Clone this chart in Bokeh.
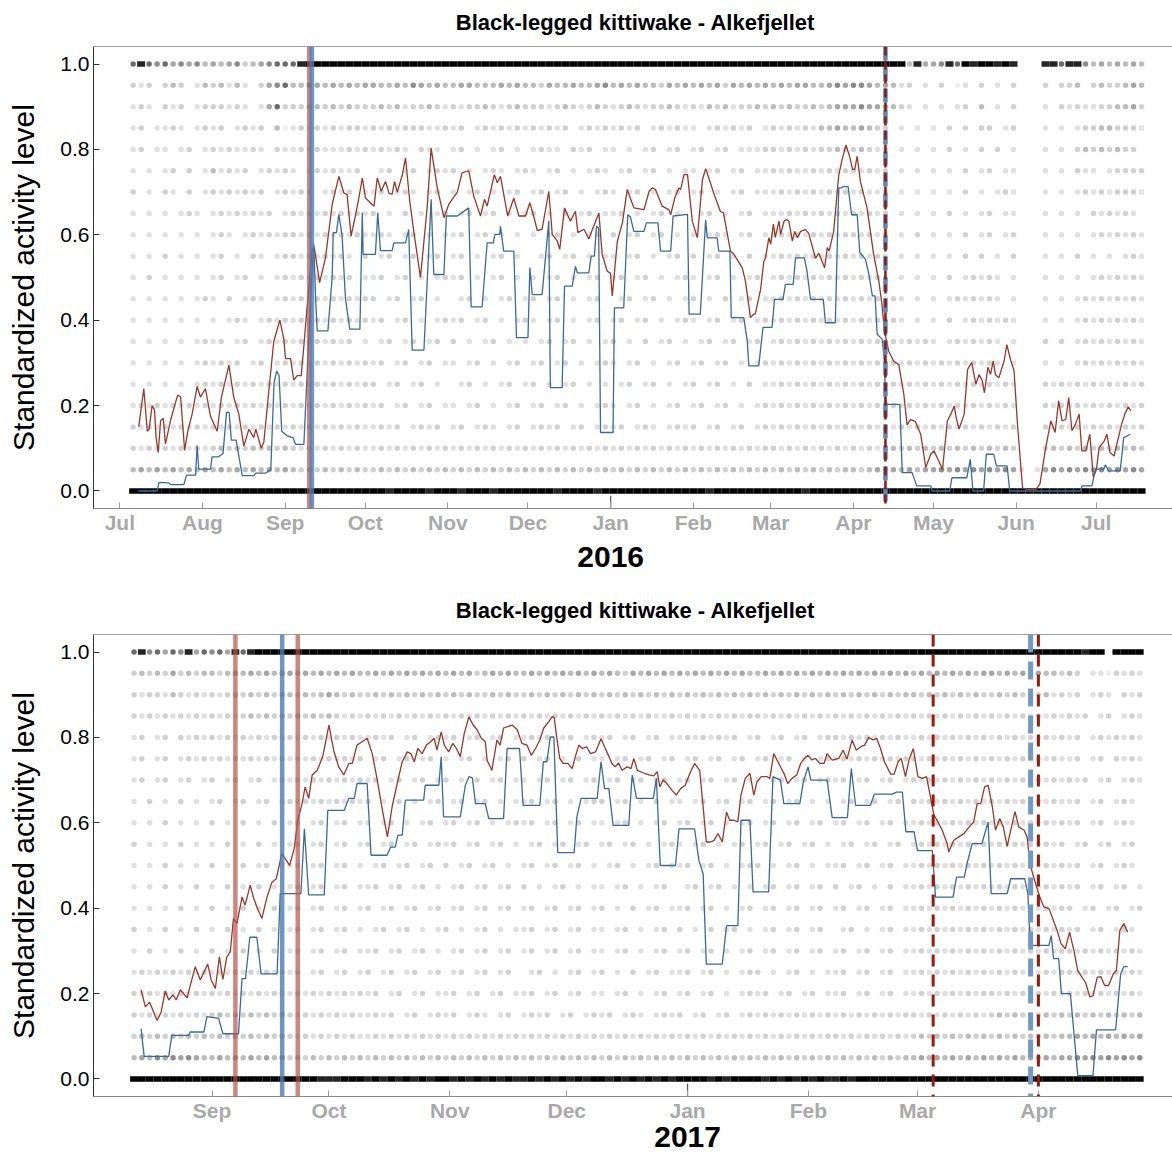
from datetime import date
from bokeh.plotting import figure
from bokeh.models import ColumnDataSource, Span, FixedTicker, PrintfTickFormatter, Range1d, Title
from bokeh.layouts import column
from bokeh.embed import file_html
from bokeh.resources import INLINE

TITLE = "Black-legged kittiwake - Alkefjellet"
Y_LABEL = "Standardized activity level"
YEAR1 = "2016"
YEAR2 = "2017"

# ---------------- Panel 1 (days since 2015-07-01) ----------------
REF1 = date(2015, 7, 1)
MONTHS1 = [(2015, 7), (2015, 8), (2015, 9), (2015, 10), (2015, 11), (2015, 12),
           (2016, 1), (2016, 2), (2016, 3), (2016, 4), (2016, 5), (2016, 6), (2016, 7)]
XLIM1 = (-9.86, 394.6)

red1_day = [7.1, 9.0, 10.3, 11.0, 12.1, 13.0, 13.6, 14.4, 15.3, 16.3, 17.1, 19.0, 21.7, 22.8, 24.3, 25.5,
            27.1, 29.0, 30.2, 32.1, 34.0, 36.5, 38.1, 40.9, 42.7, 44.6, 46.5, 48.4, 50.2, 51.0, 53.0, 54.0,
            55.8, 57.7, 60.0, 61.5, 62.1, 64.0, 65.2, 66.5, 68.0, 69.0, 70.2, 70.8, 72.1, 72.9, 74.9, 77.1,
            79.6, 82.1, 84.0, 85.2, 86.7, 88.4, 89.6, 90.9, 92.1, 95.3, 96.5, 98.0, 99.6, 100.9, 102.1, 103.0,
            104.0, 105.9, 107.1, 108.7, 110.2, 112.7, 115.2, 116.7, 119.0, 121.5, 123.3, 126.5, 128.3, 130.8,
            132.7, 135.2, 136.7, 137.7, 140.4, 141.5, 142.7, 145.4, 147.7, 149.6, 152.1, 153.7, 155.0, 156.5,
            158.3, 160.8, 162.1, 164.0, 164.9, 166.7, 168.9, 170.8, 171.7, 174.0, 175.8, 177.0, 179.6, 180.8,
            182.7, 183.9, 184.6, 186.5, 188.4, 190.2, 192.7, 196.5, 198.4, 199.6, 200.8, 203.3, 205.8, 206.5,
            208.0, 209.6, 210.2, 211.5, 212.8, 214.6, 216.5, 218.4, 219.6, 220.8, 222.6, 225.1, 226.3, 228.9,
            230.1, 233.3, 234.5, 236.4, 237.6, 238.2, 240.2, 241.4, 242.0, 243.3, 244.0, 245.0, 245.7, 247.1,
            247.7, 249.0, 250.0, 250.8, 252.1, 253.0, 254.0, 255.2, 257.0, 258.2, 260.8, 262.0, 264.2, 265.2,
            265.9, 267.6, 269.5, 270.9, 272.2, 273.4, 274.7, 275.5, 276.4, 277.6, 280.1, 282.6, 284.5, 285.7,
            286.6, 288.2, 290.1, 292.0, 293.9, 295.1, 296.4, 298.2, 300.2, 302.1, 304.0, 305.2, 306.4, 308.4,
            310.2, 311.5, 312.8, 313.5, 314.6, 316.5, 317.8, 319.3, 320.9, 322.1, 323.3, 324.1, 325.4, 326.4,
            327.4, 328.2, 329.5, 331.5, 332.5, 334.0, 335.2, 336.5, 338.4, 340.2, 343.4, 344.9, 347.1, 349.0,
            350.6, 351.9, 353.2, 354.6, 355.7, 356.9, 358.2, 359.6, 360.6, 362.1, 363.6, 364.9, 366.1, 367.1,
            369.0, 370.0, 371.2, 372.7, 374.0, 375.5, 376.7, 378.0, 379.0]
red1_val = [0.15, 0.24, 0.14, 0.145, 0.20, 0.19, 0.125, 0.09, 0.165, 0.17, 0.11, 0.165, 0.225, 0.22, 0.095, 0.14,
            0.18, 0.245, 0.22, 0.24, 0.175, 0.14, 0.22, 0.295, 0.22, 0.18, 0.105, 0.145, 0.125, 0.145, 0.10, 0.115,
            0.23, 0.35, 0.40, 0.355, 0.31, 0.31, 0.26, 0.27, 0.27, 0.34, 0.43, 0.468, 0.566, 0.57, 0.488, 0.546,
            0.671, 0.737, 0.698, 0.694, 0.597, 0.647, 0.686, 0.733, 0.686, 0.667, 0.733, 0.702, 0.725, 0.697, 0.695, 0.725,
            0.70, 0.74, 0.78, 0.678, 0.608, 0.50, 0.663, 0.803, 0.71, 0.64, 0.671, 0.70, 0.745, 0.75,
            0.69, 0.644, 0.683, 0.667, 0.741, 0.722, 0.737, 0.644, 0.686, 0.644, 0.644, 0.675, 0.647, 0.61,
            0.613, 0.702, 0.601, 0.585, 0.566, 0.663, 0.632, 0.655, 0.605, 0.613, 0.59, 0.61, 0.651, 0.554,
            0.515, 0.51, 0.457, 0.585, 0.628, 0.706, 0.663, 0.659, 0.702, 0.71, 0.706, 0.667, 0.659, 0.647,
            0.686, 0.71, 0.706, 0.741, 0.741, 0.632, 0.593, 0.729, 0.755, 0.733, 0.698, 0.655, 0.651, 0.562,
            0.555, 0.523, 0.492, 0.406, 0.414, 0.414, 0.472, 0.538, 0.545, 0.593, 0.578, 0.625, 0.594, 0.632,
            0.601, 0.632, 0.636, 0.632, 0.585, 0.608, 0.593, 0.608, 0.612, 0.604, 0.545, 0.557, 0.523, 0.57,
            0.562, 0.608, 0.74, 0.78, 0.81, 0.787, 0.753, 0.753, 0.784, 0.725, 0.663, 0.553, 0.492, 0.437,
            0.375, 0.328, 0.304, 0.296, 0.226, 0.155, 0.167, 0.163, 0.133, 0.055, 0.086, 0.094, 0.078, 0.051,
            0.164, 0.18, 0.199, 0.172, 0.145, 0.18, 0.285, 0.301, 0.25, 0.273, 0.258, 0.23, 0.29, 0.273,
            0.305, 0.273, 0.265, 0.305, 0.343, 0.305, 0.282, 0.155, 0.007, 0.004, 0.004, 0.016, 0.102, 0.164,
            0.137, 0.211, 0.164, 0.168, 0.219, 0.141, 0.156, 0.18, 0.094, 0.094, 0.133, 0.033, 0.05, 0.102,
            0.117, 0.133, 0.09, 0.082, 0.117, 0.156, 0.18, 0.197, 0.188]

blue1_day = [7.0, 14.0, 14.7, 18.4, 19.0, 24.0, 25.0, 28.4, 29.0, 29.6, 34.0, 34.6, 37.0, 38.7, 40.0, 41.0,
             41.8, 43.6, 45.9, 50.2, 51.0, 54.7, 56.6, 57.8, 58.8, 59.7, 60.7, 62.8, 64.9, 65.9, 69.0, 71.5,
             72.7, 73.4, 74.0, 78.0, 79.6, 80.0, 81.2, 82.1, 83.3, 84.6, 86.2, 90.0, 90.9, 91.2, 95.8, 96.7,
             97.7, 102.1, 102.7, 107.1, 108.3, 109.6, 114.0, 116.7, 117.7, 121.5, 122.4, 126.5, 130.8, 131.7,
             135.8, 137.7, 140.0, 140.6, 142.4, 142.7, 143.9, 147.7, 148.7, 153.0, 153.7, 154.6, 158.3, 160.8,
             161.4, 165.8, 166.7, 169.6, 170.8, 171.5, 175.8, 176.7, 177.9, 178.7, 179.5, 180.2, 184.9, 185.4,
             188.9, 190.4, 191.4, 192.7, 196.5, 197.4, 201.7, 202.7, 206.5, 207.4, 212.8, 213.4, 217.6, 219.6,
             220.2, 223.9, 224.5, 228.7, 229.2, 233.9, 235.2, 235.8, 239.5, 241.1, 244.5, 245.4, 248.6, 249.5,
             252.4, 253.3, 256.6, 257.6, 258.9, 263.7, 264.5, 268.2, 269.5, 270.6, 271.2, 273.0, 274.3, 276.4,
             277.4, 279.5, 280.8, 282.1, 283.1, 283.9, 285.8, 286.6, 287.0, 287.6, 292.4, 293.3, 297.0, 298.7,
             304.0, 304.5, 311.1, 311.9, 317.5, 318.8, 319.8, 323.8, 324.8, 327.6, 328.6, 332.6, 333.6, 360.1,
             360.7, 364.4, 365.7, 368.8, 369.4, 370.7, 375.0, 376.3, 378.8]
blue1_val = [0.0, 0.0, 0.02, 0.019, 0.015, 0.015, 0.037, 0.037, 0.106, 0.051, 0.051, 0.08, 0.08, 0.088, 0.184, 0.184,
             0.119, 0.119, 0.036, 0.036, 0.042, 0.042, 0.05, 0.253, 0.281, 0.27, 0.14, 0.129, 0.125, 0.109, 0.109, 0.45,
             0.578, 0.45, 0.375, 0.375, 0.50, 0.605, 0.605, 0.648, 0.60, 0.45, 0.379, 0.379, 0.652, 0.554, 0.554, 0.652,
             0.563, 0.563, 0.581, 0.581, 0.612, 0.33, 0.33, 0.683, 0.507, 0.507, 0.644, 0.644, 0.663, 0.431,
             0.431, 0.581, 0.581, 0.601, 0.601, 0.62, 0.562, 0.562, 0.359, 0.359, 0.523, 0.46, 0.46, 0.632,
             0.242, 0.242, 0.48, 0.48, 0.526, 0.511, 0.511, 0.55, 0.55, 0.62, 0.615, 0.137, 0.137, 0.429,
             0.429, 0.647, 0.642, 0.608, 0.608, 0.628, 0.628, 0.562, 0.562, 0.644, 0.648, 0.414, 0.414, 0.635,
             0.593, 0.593, 0.562, 0.562, 0.406, 0.406, 0.351, 0.293, 0.293, 0.383, 0.383, 0.449, 0.449, 0.484,
             0.484, 0.546, 0.546, 0.515, 0.449, 0.449, 0.394, 0.394, 0.71, 0.71, 0.713, 0.713, 0.647, 0.647,
             0.558, 0.543, 0.507, 0.457, 0.457, 0.367, 0.355, 0.304, 0.215, 0.203, 0.203, 0.043, 0.043, 0.012,
             0.012, 0.0, 0.0, 0.031, 0.031, 0.074, 0.0, 0.0, 0.086, 0.086, 0.059, 0.059, 0.0, 0.0,
             0.012, 0.012, 0.051, 0.051, 0.061, 0.047, 0.047, 0.125, 0.133]

red1_solid = ["2015-09-10"]
blue1_solid = ["2015-09-11"]
red1_dash = ["2016-04-13"]
blue1_dash = ["2016-04-13"]

# individual activity values: one character per 3-day bin (first bin centred on day 5),
# rows from level 1.00 down to 0.00; digit = darkness of the overlapping points, 0 = none
DOT1_FIRST = 5
DOT1_STEP = 3
dots1 = [
    "7876756564 5456345677 7899999999 9999999999 9999999999 9999999999 9999999999 9999999999 9999999999 9999999485 5687989989 8000887886 4545454",
    "3230343024 3424203567 4455454545 5445465454 4554445454 4354454456 4545443545 4545354545 4545544565 6654542302 0301203020 3000303340 3433454",
    "2320323023 3323202573 3344343433 3434233432 3233432343 3323432343 2343233432 3243423343 4343343455 5655543202 0202304020 3000203232 2334453",
    "2302232023 2302323041 2323232332 3232333223 2302323232 3232302323 2323023232 2023232302 3232324454 4543302020 2030303302 3000202023 3443332",
    "2302202302 3232232032 2323222323 2323203220 2302023020 2322032302 2020230230 2302302223 3232323343 3432302020 2030203030 2000202034 3434330",
    "2020230302 4232302323 2023232230 0230230232 3020232023 2023020232 0230230202 2023023022 3232232323 3232302020 2020302302 2000202032 2023333",
    "3020320302 3232323023 2320232302 2302320230 2023020230 2302302023 2023020230 2302023022 2323232323 2322302020 2020302023 2000202023 2323332",
    "2020202320 2323232302 3232323232 3020302023 0230230202 3020302302 2302023020 0230202302 2232323232 3232302020 2030202302 2000202020 3232320",
    "2020202020 2320232323 3232323232 2320230202 2302302020 2023020230 3023023020 2023202302 2323232323 3232302030 2020302302 3000202020 2323232",
    "2020302020 2302032023 3232323203 0230230230 2302023020 0230230202 2023020230 3023020302 2323232323 2323202020 2020303020 3000202030 2020232",
    "2030202020 2302302023 2323232302 2302302023 2302023020 2023020230 2302302023 2023020230 2323232323 2323202020 2030232320 2000202020 2323232",
    "2020202023 2030232023 2323232323 3023023020 0230202302 3023020230 0230230202 3020302302 2323232323 2323232020 2023232320 2000202023 2323232",
    "2020202020 2023202323 2323232323 2302302023 2302302023 2023020230 2302302023 2023023023 2323232323 2323232020 2030232323 2000202023 2323232",
    "2020202023 2302302323 2323232302 0230230230 3020230202 0230230202 3020302302 0230230230 2323232323 2323232323 2023232320 2000303023 2323232",
    "2020202023 2323023023 2323232323 2302302302 2023020230 2302302023 2023020230 2302302023 2323232323 2323232323 2323232320 2000202023 2323232",
    "2020202023 2323232323 2323232323 3023023020 0230202302 3020230202 0230230202 3023020302 2323232323 2323232323 2323232323 2000323232 3232323",
    "2323232323 2323232323 2323232323 2302302302 2023020230 2302302023 2023020230 2302302023 2323232323 2323232323 2323232323 2000323232 3232323",
    "3232323232 3232323232 3232323232 2323023230 2302320230 2323023023 2302320232 3023023023 2323232323 3232323232 3232323232 3000323232 3232323",
    "3232323232 3434343434 3232323232 2323232323 2323232323 2323232323 2323232323 2323232323 3232323232 3232343434 3434343434 3000343434 3434343",
    "4545454545 4545454545 4343434343 3434343434 3434343434 3434343434 3434343434 3434343434 3434343434 4345454545 5656565656 5202565656 5656565",
    "9999999999 9999999999 9999999999 9989999899 9899989999 9998999989 9999999999 9989999999 9999899999 9999999999 9999999999 9999999999 9999999",
]

# ---------------- Panel 2 (days since 2016-09-01) ----------------
REF2 = date(2016, 9, 1)
MONTHS2 = [(2016, 9), (2016, 10), (2016, 11), (2016, 12), (2017, 1), (2017, 2), (2017, 3), (2017, 4)]
XLIM2 = (-30.4, 246.4)

red2_day = [-18.2, -17.1, -16.0, -14.1, -13.1, -12.0, -11.1, -10.0, -9.2, -8.1, -6.4, -5.6, -4.3, -3.0, -1.1, -0.2,
            0.85, 1.9, 2.8, 3.8, 4.7, 5.5, 6.4, 7.7, 8.5, 9.8, 10.6, 11.5, 12.8, 14.1, 15.4, 16.5,
            17.9, 19.1, 19.9, 21.1, 22.0, 23.1, 23.9, 24.8, 25.7, 27.0, 28.4, 30.0, 31.2, 32.5, 33.8, 35.1,
            36.0, 37.2, 38.5, 39.8, 41.1, 42.4, 43.7, 45.0, 46.2, 47.5, 48.8, 50.1, 51.0, 51.9, 52.8, 53.9,
            55.0, 56.1, 57.0, 57.7, 58.8, 59.6, 60.7, 61.8, 62.7, 63.7, 64.7, 65.9, 67.0, 68.0, 69.1, 70.1,
            70.6, 71.8, 73.1, 73.9, 74.8, 77.0, 78.3, 79.5, 80.8, 81.9, 83.0, 84.1, 85.1, 86.4, 87.3, 87.8,
            88.4, 89.2, 90.1, 91.3, 92.4, 93.3, 94.1, 95.0, 96.1, 97.1, 98.4, 99.8, 100.7, 101.5, 102.6, 103.4,
            104.3, 105.2, 106.5, 107.5, 108.2, 109.1, 110.9, 112.1, 113.3, 114.2, 114.9, 115.7, 116.7, 118.0, 119.1, 120.2,
            121.4, 122.6, 123.8, 125.1, 126.0, 126.8, 127.9, 128.8, 129.8, 130.9, 132.0, 132.8, 133.9, 134.9, 135.7, 136.8,
            138.0, 139.0, 139.8, 140.9, 142.4, 143.1, 144.1, 145.4, 146.7, 147.7, 148.8, 150.0, 151.0, 152.0, 152.9, 153.9,
            154.8, 155.9, 157.0, 157.8, 159.1, 160.8, 161.9, 162.9, 164.2, 165.3, 166.4, 167.4, 168.5, 169.6, 170.5, 171.5,
            172.5, 174.1, 175.0, 176.0, 176.8, 177.9, 178.8, 179.9, 181.1, 182.2, 183.3, 184.3, 185.2, 186.0, 187.3, 188.6,
            189.0, 190.3, 191.6, 192.9, 194.2, 195.4, 196.3, 197.2, 198.2, 199.1, 200.2, 201.0, 202.1, 203.0, 204.0, 204.9,
            206.0, 207.0, 208.3, 209.1, 209.8, 210.9, 212.2, 213.4, 214.7, 215.5, 216.8, 217.8, 218.9, 220.0, 221.1, 222.1,
            223.2, 224.1, 225.2, 226.0, 227.1, 228.0, 229.0, 230.0, 231.2, 232.0, 232.9, 233.9, 234.9]
red2_val = [0.209, 0.169, 0.18, 0.137, 0.155, 0.206, 0.185, 0.197, 0.185, 0.209, 0.19, 0.218, 0.263, 0.232, 0.269, 0.232,
            0.212, 0.286, 0.233, 0.286, 0.298, 0.376, 0.364, 0.426, 0.407, 0.454, 0.426, 0.403, 0.376, 0.426, 0.461, 0.469,
            0.528, 0.512, 0.50, 0.54, 0.606, 0.645, 0.684, 0.657, 0.712, 0.723, 0.755, 0.829, 0.77, 0.731, 0.712, 0.739,
            0.739, 0.782, 0.79, 0.798, 0.762, 0.70, 0.63, 0.567, 0.637, 0.692, 0.743, 0.766, 0.762, 0.743, 0.774, 0.762,
            0.782, 0.79, 0.798, 0.77, 0.813, 0.782, 0.766, 0.786, 0.774, 0.755, 0.809, 0.848, 0.829, 0.818, 0.798, 0.79,
            0.746, 0.723, 0.794, 0.782, 0.822, 0.829, 0.818, 0.786, 0.782, 0.758, 0.774, 0.794, 0.822, 0.837, 0.849, 0.846,
            0.802, 0.751, 0.739, 0.739, 0.727, 0.758, 0.782, 0.774, 0.778, 0.762, 0.766, 0.797, 0.778, 0.762, 0.739, 0.731,
            0.74, 0.723, 0.731, 0.727, 0.751, 0.723, 0.716, 0.712, 0.71, 0.72, 0.684, 0.70, 0.692, 0.676, 0.665, 0.68,
            0.688, 0.716, 0.739, 0.723, 0.637, 0.555, 0.555, 0.559, 0.575, 0.555, 0.625, 0.606, 0.606, 0.602, 0.665, 0.704,
            0.716, 0.665, 0.696, 0.708, 0.708, 0.704, 0.762, 0.739, 0.716, 0.692, 0.704, 0.712, 0.739, 0.751, 0.758, 0.747,
            0.751, 0.739, 0.739, 0.762, 0.747, 0.751, 0.77, 0.749, 0.794, 0.77, 0.778, 0.782, 0.80, 0.794, 0.798, 0.774,
            0.743, 0.714, 0.714, 0.743, 0.751, 0.708, 0.747, 0.774, 0.708, 0.704, 0.708, 0.661, 0.618, 0.606, 0.583, 0.551,
            0.532, 0.559, 0.567, 0.575, 0.59, 0.602, 0.645, 0.645, 0.684, 0.688, 0.637, 0.583, 0.61, 0.59, 0.545, 0.583,
            0.626, 0.59, 0.583, 0.567, 0.505, 0.469, 0.43, 0.403, 0.399, 0.38, 0.348, 0.317, 0.305, 0.344, 0.301, 0.254,
            0.238, 0.226, 0.192, 0.195, 0.238, 0.24, 0.219, 0.219, 0.246, 0.254, 0.348, 0.364, 0.344]

blue2_day = [-18.2, -17.4, -11.1, -10.3, -6.0, -5.6, -2.1, -1.3, 1.7, 2.8, 6.8, 7.7, 8.6, 9.7, 11.5, 12.6,
             16.7, 17.5, 22.8, 23.7, 24.8, 28.8, 29.7, 33.9, 35.1, 36.5, 37.2, 39.8, 40.8, 44.9, 45.8, 47.0,
             47.7, 48.8, 49.6, 54.3, 54.7, 58.2, 58.8, 59.4, 63.7, 65.0, 65.9, 66.8, 67.6, 70.1, 71.0, 74.8,
             75.7, 78.9, 79.8, 84.1, 85.0, 85.9, 86.8, 87.7, 88.7, 92.9, 93.6, 94.7, 98.8, 99.8, 100.7, 101.8,
             102.9, 106.9, 107.8, 108.9, 113.2, 114.0, 115.0, 118.9, 119.8, 123.8, 124.9, 126.0, 126.8, 130.9, 132.0, 134.9,
             135.7, 138.0, 138.8, 142.8, 143.9, 145.8, 146.7, 150.8, 151.7, 152.9, 153.6, 157.8, 159.1, 163.0, 164.0, 165.1,
             168.9, 169.9, 174.5, 175.6, 177.1, 178.0, 180.1, 181.0, 184.8, 185.6, 190.1, 191.0, 193.0, 193.7, 195.0, 197.5,
             199.1, 199.9, 204.0, 204.9, 208.5, 209.3, 209.9, 214.7, 215.3, 215.9, 217.2, 217.9, 220.2, 222.1, 226.0, 226.9,
             231.8, 233.1, 233.9, 234.9]
blue2_val = [0.118, 0.053, 0.053, 0.102, 0.102, 0.11, 0.11, 0.146, 0.142, 0.106, 0.106, 0.235, 0.235, 0.332, 0.332, 0.246,
             0.246, 0.434, 0.434, 0.586, 0.431, 0.431, 0.629, 0.629, 0.657, 0.657, 0.692, 0.692, 0.524, 0.524, 0.543, 0.543,
             0.571, 0.571, 0.653, 0.653, 0.688, 0.688, 0.755, 0.614, 0.614, 0.688, 0.708, 0.705, 0.645, 0.645, 0.61, 0.61,
             0.774, 0.774, 0.641, 0.641, 0.743, 0.743, 0.801, 0.801, 0.53, 0.53, 0.614, 0.657, 0.657, 0.743, 0.68, 0.68,
             0.594, 0.594, 0.712, 0.657, 0.657, 0.704, 0.50, 0.50, 0.586, 0.586, 0.512, 0.48, 0.269, 0.269, 0.359, 0.359,
             0.606, 0.606, 0.438, 0.438, 0.708, 0.70, 0.645, 0.645, 0.696, 0.731, 0.70, 0.70, 0.612, 0.612, 0.727, 0.641,
             0.641, 0.667, 0.667, 0.672, 0.672, 0.579, 0.579, 0.535, 0.535, 0.426, 0.426, 0.473, 0.473, 0.505, 0.551, 0.551,
             0.602, 0.434, 0.434, 0.469, 0.469, 0.434, 0.313, 0.313, 0.336, 0.282, 0.282, 0.20, 0.20, 0.008, 0.008, 0.115,
             0.115, 0.246, 0.263, 0.263]

red2_solid = ["2016-09-07", "2016-09-23"]
blue2_solid = ["2016-09-19"]
red2_dash = ["2017-03-05", "2017-04-01"]
blue2_dash = ["2017-03-30"]

# one character per 2-day bin (first bin centred on day -20)
DOT2_FIRST = -20
DOT2_STEP = 2
dots2 = [
    "7867576857 6758789999 9999999999 9999999999 9999999999 9999999999 9999999999 9999999999 9999999999 9999999999 9999999999 9999999999 9989909999",
    "3434353434 4345454545 5454545454 4545454545 4545345454 4545454545 4543545454 5454545454 4545454545 4545454545 4545454545 5454545443 4302213232",
    "3233243232 3234343434 4343454343 3434343434 3434334343 3434343434 3434343434 3434343434 3434343434 3434343434 4343434343 3434343423 2302320323",
    "3232323232 3232343434 3434343232 3232323232 3232323232 3232323232 3232323223 2323232323 3232323232 3232323232 3232323232 3232323232 3230230232",
    "2302303232 3232323232 3232323232 2323023023 2302302302 2323023023 2302302302 2323232302 3023023023 3232323232 2323232323 2323232323 2302323232",
    "2302302323 2323232323 2323232323 0230230230 2023020230 3023020302 2023023023 0230230230 2302302023 2323232323 3232323232 3232323232 2302303232",
    "2302302302 3023023023 2323232323 2302302302 3020302302 2023023023 0230230230 2302302302 2023023023 2302302302 3232323232 3232323232 3230230232",
    "2030203020 2302302302 3232323232 3020302023 0230230202 2302302023 3023020302 2023023023 0230230202 0230230230 3232323232 3232323232 2302302320",
    "2020302020 3020302030 2302302302 2023020230 2302302023 2302302302 2023020230 2302302023 0230230230 2302302302 2323232323 2323232323 2302302320",
    "3020203020 2030203020 2302302302 3023023023 2302302302 0230230230 2302302023 2023020230 2302302302 0230230230 2323232323 2323232323 0230230230",
    "2020302020 3020302302 2302302302 0230230230 3023023020 2302302302 0230202302 2302302023 3020230202 2302302302 2323232323 2323232323 2302302320",
    "2020302030 2030203020 2302302302 2302302302 0230230230 3020230202 2023020230 0230230202 0230230230 3023020302 2323232323 2323232323 2302302302",
    "2020203020 3020302030 2302302302 3023023023 0230230230 2302302302 3020302302 2302302023 0230230230 2302302302 2323232323 2323232323 3023023023",
    "3020302030 2030203020 2302302302 0230230202 3020230202 2302302302 2023020230 3020302302 0230230230 0230202302 2323232323 2323232323 2302302320",
    "2030203020 3020302030 2302302302 2302302302 0230230230 2302302302 2023020230 2302302023 0230230230 2302302302 2323232323 2323232323 3232323232",
    "2323232323 2323232323 2302302302 3023023023 0230230230 0230202302 3020302302 2302302023 3020230202 2302302302 2323232323 2323232323 3232323232",
    "3232323232 3232323232 2323232323 2302302302 2302302302 2302302302 2023020230 2302302023 2302302302 2302302302 2323232323 3232323232 3232323232",
    "3232323232 3434343434 3232323232 2323023023 2302320230 2323023023 2302320232 3023023023 2323232323 2323232323 3232323232 3434343434 3434343434",
    "3434343434 3434343434 3232323232 2323232323 2323232323 2323232323 2323232323 2323232323 2323232323 3232323232 3434343434 3434343434 4545454545",
    "4546565654 4545454545 3434343434 3434343434 3434343434 3434343434 3434343434 3434343434 3434343434 3434343434 4545454545 4545454545 5656565656",
    "9999999999 9999999999 9999888999 8989898989 9898989898 8989898989 9898989898 9999898999 9898989898 8989999999 9999999999 9999999999 9999999999",
]

LEVELS = [1.00, 0.95, 0.90, 0.85, 0.80, 0.75, 0.70, 0.65, 0.60, 0.55, 0.50,
          0.45, 0.40, 0.35, 0.30, 0.25, 0.20, 0.15, 0.10, 0.05, 0.00]
YTICKS = [0.0, 0.2, 0.4, 0.6, 0.8, 1.0]
ALPHA = {"1": 0.06, "2": 0.12, "3": 0.18, "4": 0.26, "5": 0.35,
         "6": 0.45, "7": 0.58, "8": 0.86, "9": 1.0}

RED = "#96392b"
BLUE = "#3a6b98"
FONT = "Liberation Sans"
Y0, Y1 = -0.041, 1.041
FRAME_LEFT = 93
FRAME_W = 1172 - FRAME_LEFT
TITLE_CENTER_X = 635


def offs(ref, s):
    y, m, d = (int(v) for v in s.split("-"))
    return (date(y, m, d) - ref).days


def dot_sources(rows, first, step):
    cx, cy, ca = [], [], []
    bx, by, ba = [], [], []
    for lev, row in zip(LEVELS, rows):
        row = row.replace(" ", "")
        for i, ch in enumerate(row):
            if ch == "0":
                continue
            if ch in "89":
                bx.append(first + step * i)
                by.append(lev)
                ba.append(ALPHA[ch])
            else:
                cx.append(first + step * i)
                cy.append(lev)
                ca.append(ALPHA[ch])
    return (ColumnDataSource(dict(x=cx, y=cy, a=ca)),
            ColumnDataSource(dict(x=bx, y=by, a=ba)))


def make_panel(height, top, bottom, ref, xlim, months, red_d, red_v, blue_d, blue_v,
               dots, first, step, red_solid, blue_solid, red_dash, blue_dash, year, year_standoff,
               title_standoff, dash_style):
    p = figure(width=1172, height=height, x_range=Range1d(*xlim), y_range=Range1d(Y0, Y1),
               output_backend="svg", toolbar_location=None, title=None,
               min_border_left=FRAME_LEFT, min_border_right=0, min_border_top=top,
               min_border_bottom=bottom)
    p.outline_line_color = None
    p.grid.visible = False
    p.background_fill_color = "white"

    title_w = 16.34 * 22
    p.add_layout(Title(text=TITLE, align="left", offset=TITLE_CENTER_X - FRAME_LEFT - title_w / 2,
                       vertical_align="top", standoff=title_standoff, text_font=FONT,
                       text_font_size="22px", text_font_style="bold", text_color="black"), "above")

    ticks = [(date(y, m, 1) - ref).days for (y, m) in months]
    p.xaxis.ticker = FixedTicker(ticks=ticks)
    p.xaxis.major_label_overrides = {t: date(y, m, 1).strftime("%b") for t, (y, m) in zip(ticks, months)}
    p.xaxis.major_label_text_font = FONT
    p.xaxis.major_label_text_font_size = "21px"
    p.xaxis.major_label_text_font_style = "bold"
    p.xaxis.major_label_text_color = "#a9a9a9"
    p.xaxis.major_label_standoff = 2
    p.xaxis.major_tick_in = 6
    p.xaxis.major_tick_out = 0
    p.xaxis.major_tick_line_color = "#9a9a9a"
    p.xaxis.minor_tick_line_color = None
    p.xaxis.axis_line_color = "#8a8a8a"

    p.yaxis.ticker = FixedTicker(ticks=YTICKS)
    p.yaxis.formatter = PrintfTickFormatter(format="%.1f")
    p.yaxis.major_label_text_font = FONT
    p.yaxis.major_label_text_font_size = "21px"
    p.yaxis.major_label_text_color = "black"
    p.yaxis.major_label_standoff = 4
    p.yaxis.major_tick_in = 6
    p.yaxis.major_tick_out = 0
    p.yaxis.major_tick_line_color = "#333333"
    p.yaxis.minor_tick_line_color = None
    p.yaxis.axis_line_color = "#333333"
    p.yaxis.axis_label = Y_LABEL
    p.yaxis.axis_label_text_font = FONT
    p.yaxis.axis_label_text_font_size = "30px"
    p.yaxis.axis_label_text_font_style = "normal"
    p.yaxis.axis_label_text_color = "black"
    p.yaxis.axis_label_standoff = 17

    # top border
    p.add_layout(Span(location=Y1, dimension="width", line_color="#444444", line_width=1.2))

    # year boundary tick (longer)
    jan = [(date(y, m, 1) - ref).days for (y, m) in months if m == 1][0]
    p.segment(x0=[jan], y0=[Y0], x1=[jan], y1=[Y0 + 0.03], line_color="#555555", line_width=1.2)

    csrc, bsrc = dot_sources(dots, first, step)
    p.scatter("x", "y", source=csrc, size=5.5, fill_color="black", fill_alpha="a", line_color=None)
    p.rect("x", "y", width=step, height=5.5, height_units="screen", source=bsrc,
           fill_color="black", fill_alpha="a", line_color=None)

    p.line(red_d, red_v, line_color=RED, line_width=1.3)
    p.line(blue_d, blue_v, line_color=BLUE, line_width=1.3)

    for s in red_solid:
        p.add_layout(Span(location=offs(ref, s), dimension="height", line_color="#b5544a",
                          line_alpha=0.7, line_width=4.5))
    for s in blue_solid:
        p.add_layout(Span(location=offs(ref, s), dimension="height", line_color="#4a7ab5",
                          line_alpha=0.8, line_width=4.5))
    if dash_style == "overlap":
        for s in blue_dash:
            p.add_layout(Span(location=offs(ref, s), dimension="height", line_color="#5d86bd",
                              line_width=4.5, line_dash="14 7"))
        for s in red_dash:
            p.add_layout(Span(location=offs(ref, s), dimension="height", line_color="#8f1a0c",
                              line_width=2.5, line_dash="9 5"))
    else:
        for s in red_dash:
            p.add_layout(Span(location=offs(ref, s), dimension="height", line_color="#9b1a0b",
                              line_width=3, line_dash="12 8"))
        for s in blue_dash:
            p.add_layout(Span(location=offs(ref, s), dimension="height", line_color="#6f99c9",
                              line_width=5, line_dash="18 9"))

    # year label under the month labels, centred on the January tick
    jan_px = (jan - xlim[0]) * FRAME_W / (xlim[1] - xlim[0])
    year_w = 4 * 0.556 * 30
    p.add_layout(Title(text=year, align="left", offset=jan_px - year_w / 2,
                       standoff=year_standoff, text_font=FONT, text_font_size="30px",
                       text_font_style="bold", text_color="black"), "below")
    return p


p1 = make_panel(587, 46, 79, REF1, XLIM1, MONTHS1, red1_day, red1_val, blue1_day, blue1_val,
                dots1, DOT1_FIRST, DOT1_STEP, red1_solid, blue1_solid, red1_dash, blue1_dash,
                YEAR1, 16, 19, "overlap")
p2 = make_panel(570, 47, 61, REF2, XLIM2, MONTHS2, red2_day, red2_val, blue2_day, blue2_val,
                dots2, DOT2_FIRST, DOT2_STEP, red2_solid, blue2_solid, red2_dash, blue2_dash,
                YEAR2, 0, 20, "separate")

layout = column(p1, p2, spacing=0)
open("out.html", "w").write(file_html(layout, INLINE))
